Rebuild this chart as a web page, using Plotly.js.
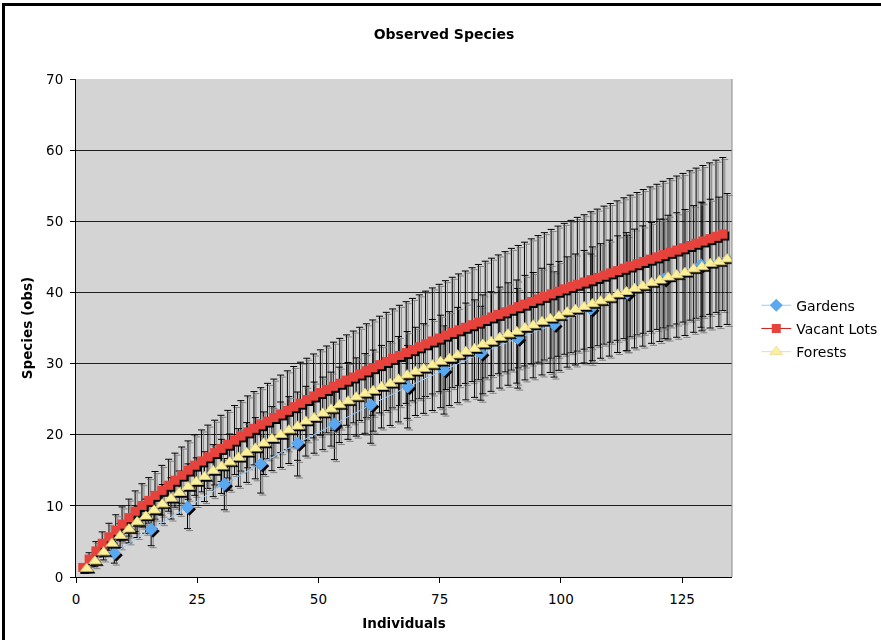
<!DOCTYPE html>
<html>
<head>
<meta charset="utf-8">
<script src="https://cdn.plot.ly/plotly-3.0.1.min.js"></script>
<style>
  html, body { margin: 0; padding: 0; background: #fff; overflow: hidden; }
  #chart { position: absolute; left: 0; top: 0; width: 881px; height: 640px; }
  #frame { position: absolute; left: 2px; top: 3px; width: 900px; height: 700px;
           border-left: 3px solid #000; border-top: 3px solid #000; pointer-events: none; }
  #chart .scatterlayer .trace .points { filter: url(#markShadow); }
  #chart .scatterlayer .errorbars { filter: url(#barShadow); }
</style>
</head>
<body>
<svg width="0" height="0" style="position:absolute">
  <defs>
    <filter id="markShadow" x="-5%" y="-5%" width="110%" height="110%">
      <feDropShadow dx="2" dy="2" stdDeviation="0" flood-color="#000" flood-opacity="1"/>
    </filter>
    <filter id="barShadow" x="-5%" y="-5%" width="110%" height="110%">
      <feDropShadow dx="2" dy="2" stdDeviation="0" flood-color="#7a7a7a" flood-opacity="0.9"/>
    </filter>
  </defs>
</svg>
<div id="chart"></div>
<div id="frame"></div>
<script>
// Species accumulation (rarefaction) curves with +/- 1 SD error bars

const gardensX = [7.9, 15.5, 23.0, 30.6, 38.1, 45.7, 53.3, 60.8, 68.4, 75.9, 83.5, 91.1, 98.6, 106.2, 113.7, 121.3, 128.9, 136.4];
const gardensY = [3.35, 6.7, 9.8, 13.05, 15.9, 18.8, 21.5, 24.2, 26.75, 29.1, 31.45, 33.55, 35.5, 37.7, 39.9, 41.9, 43.9, 45.5];
const gardensSD = [1.4, 2.3, 3.0, 3.6, 4.1, 4.6, 5.0, 5.4, 5.8, 6.2, 6.6, 7.0, 7.4, 7.7, 8.1, 8.4, 8.8, 9.1];

const vacantX = [1.4, 2.7, 4.1, 5.4, 6.8, 8.2, 9.5, 10.9, 12.2, 13.6,
  15.0, 16.3, 17.7, 19.1, 20.4, 21.8, 23.1, 24.5, 25.9, 27.2,
  28.6, 29.9, 31.3, 32.7, 34.0, 35.4, 36.7, 38.1, 39.5, 40.8,
  42.2, 43.6, 44.9, 46.3, 47.6, 49.0, 50.4, 51.7, 53.1, 54.4,
  55.8, 57.2, 58.5, 59.9, 61.2, 62.6, 64.0, 65.3, 66.7, 68.1,
  69.4, 70.8, 72.1, 73.5, 74.9, 76.2, 77.6, 78.9, 80.3, 81.7,
  83.0, 84.4, 85.7, 87.1, 88.5, 89.8, 91.2, 92.5, 93.9, 95.3,
  96.6, 98.0, 99.4, 100.7, 102.1, 103.4, 104.8, 106.2, 107.5, 108.9,
  110.2, 111.6, 113.0, 114.3, 115.7, 117.0, 118.4, 119.8, 121.1, 122.5,
  123.9, 125.2, 126.6, 127.9, 129.3, 130.7, 132.0, 133.4];
const vacantY = [1.35, 2.51, 3.67, 4.74, 5.65, 6.55, 7.45, 8.35, 9.25, 10.06,
  10.77, 11.48, 12.19, 12.90, 13.61, 14.32, 15.03, 15.73, 16.32, 16.90,
  17.49, 18.08, 18.67, 19.25, 19.84, 20.40, 20.91, 21.41, 21.92, 22.42,
  22.93, 23.43, 23.94, 24.44, 24.95, 25.45, 25.93, 26.37, 26.81, 27.24,
  27.68, 28.12, 28.55, 28.99, 29.43, 29.86, 30.30, 30.73, 31.14, 31.55,
  31.96, 32.36, 32.78, 33.18, 33.59, 34.00, 34.38, 34.75, 35.11, 35.47,
  35.83, 36.19, 36.56, 36.92, 37.28, 37.64, 38.00, 38.36, 38.73, 39.09,
  39.45, 39.81, 40.17, 40.51, 40.83, 41.15, 41.47, 41.79, 42.11, 42.43,
  42.75, 43.07, 43.40, 43.72, 44.04, 44.36, 44.68, 45.00, 45.32, 45.64,
  45.96, 46.28, 46.60, 46.92, 47.24, 47.56, 47.89, 48.21];
const vacantSD = [0.5, 0.9, 1.3, 1.6, 1.9, 2.2, 2.4, 2.6, 2.85, 3.05,
  3.2, 3.35, 3.5, 3.65, 3.8, 3.95, 4.1, 4.25, 4.35, 4.45,
  4.55, 4.65, 4.75, 4.85, 4.95, 5.05, 5.15, 5.2, 5.3, 5.4,
  5.45, 5.55, 5.65, 5.75, 5.8, 5.9, 6.0, 6.1, 6.2, 6.3,
  6.35, 6.45, 6.55, 6.6, 6.7, 6.8, 6.9, 6.95, 7.05, 7.15,
  7.2, 7.3, 7.4, 7.45, 7.55, 7.65, 7.75, 7.85, 7.9, 8.0,
  8.1, 8.2, 8.25, 8.35, 8.45, 8.55, 8.6, 8.7, 8.8, 8.9,
  8.95, 9.05, 9.15, 9.2, 9.3, 9.4, 9.45, 9.55, 9.6, 9.7,
  9.75, 9.8, 9.9, 9.95, 10.0, 10.1, 10.15, 10.2, 10.3, 10.35,
  10.4, 10.45, 10.5, 10.55, 10.6, 10.65, 10.7, 10.75];

const forestsX = [2.2, 3.9, 5.7, 7.4, 9.1, 10.9, 12.6, 14.4, 16.1, 17.8,
  19.6, 21.3, 23.1, 24.8, 26.5, 28.3, 30.0, 31.7, 33.5, 35.2,
  37.0, 38.7, 40.4, 42.2, 43.9, 45.7, 47.4, 49.1, 50.9, 52.6,
  54.3, 56.1, 57.8, 59.6, 61.3, 63.0, 64.8, 66.5, 68.3, 70.0,
  71.7, 73.5, 75.2, 77.0, 78.7, 80.4, 82.2, 83.9, 85.6, 87.4,
  89.1, 90.9, 92.6, 94.3, 96.1, 97.8, 99.6, 101.3, 103.0, 104.8,
  106.5, 108.2, 110.0, 111.7, 113.5, 115.2, 116.9, 118.7, 120.4, 122.1,
  123.9, 125.6, 127.4, 129.1, 130.8, 132.6, 134.3];
const forestsY = [1.2, 2.25, 3.5, 4.7, 5.8, 6.75, 7.75, 8.55, 9.4, 10.25,
  11.05, 11.85, 12.7, 13.4, 14.1, 14.95, 15.55, 16.15, 16.8, 17.5,
  18.1, 18.8, 19.45, 20.0, 20.65, 21.2, 21.9, 22.4, 23.0, 23.6,
  24.2, 24.75, 25.3, 25.8, 26.2, 26.75, 27.2, 27.8, 28.4, 28.9,
  29.3, 29.8, 30.3, 30.7, 31.2, 31.7, 32.1, 32.7, 33.1, 33.65,
  34.15, 34.5, 35.05, 35.4, 35.9, 36.35, 36.7, 37.25, 37.6, 38.0,
  38.4, 38.8, 39.2, 39.75, 40.1, 40.55, 40.9, 41.35, 41.7, 42.15,
  42.45, 42.8, 43.3, 43.6, 44.05, 44.3, 44.7];
const forestsSD = [0.4, 0.8, 1.1, 1.4, 1.7, 1.95, 2.2, 2.4, 2.6, 2.75,
  2.9, 3.05, 3.2, 3.35, 3.5, 3.65, 3.8, 3.95, 4.05, 4.2,
  4.3, 4.4, 4.5, 4.6, 4.7, 4.8, 4.9, 5.0, 5.1, 5.2,
  5.3, 5.4, 5.5, 5.6, 5.7, 5.8, 5.9, 6.0, 6.1, 6.2,
  6.3, 6.4, 6.5, 6.6, 6.7, 6.8, 6.85, 6.95, 7.0, 7.1,
  7.2, 7.25, 7.35, 7.4, 7.5, 7.6, 7.65, 7.75, 7.8, 7.9,
  8.0, 8.05, 8.15, 8.2, 8.3, 8.35, 8.45, 8.5, 8.6, 8.7,
  8.75, 8.85, 8.9, 9.0, 9.05, 9.1, 9.2];

const seriesNames = ['Gardens', 'Vacant Lots', 'Forests'];
const xTicks = [0, 25, 50, 75, 100, 125];
const yTicks = [0, 10, 20, 30, 40, 50, 60, 70];

const FONT = 'DejaVu Sans, Verdana, sans-serif';

const series = [
  { name: seriesNames[0], x: gardensX, y: gardensY, sd: gardensSD,
    marker: { symbol: 'diamond', size: 10, color: '#5aa8f0' }, line: { color: '#99ccff', width: 1 } },
  { name: seriesNames[1], x: vacantX, y: vacantY, sd: vacantSD,
    marker: { symbol: 'square', size: 9, color: '#e8423c' }, line: { color: '#c81e1e', width: 1 } },
  { name: seriesNames[2], x: forestsX, y: forestsY, sd: forestsSD,
    marker: { symbol: 'triangle-up', size: 11, color: '#fdf09c', line: { color: '#d8c870', width: 0.5 } },
    line: { color: '#ffd49c', width: 1 } }
];

// error bars first, so every marker sits above every bar
const barTraces = series.map(s => ({
  type: 'scatter', mode: 'markers', x: s.x, y: s.y,
  marker: { size: 1, opacity: 0 },
  error_y: { type: 'data', array: s.sd, visible: true, color: '#000', thickness: 1, width: 3.5 },
  showlegend: false, hoverinfo: 'skip', cliponaxis: false
}));

const markTraces = series.map((s, i) => ({
  type: 'scatter', mode: 'lines+markers', name: s.name, x: s.x, y: s.y,
  marker: s.marker, line: s.line, legendgroup: 'g' + i
}));

const layout = {
  width: 881, height: 640,
  margin: { l: 76, r: 149, t: 79, b: 63, autoexpand: false },
  paper_bgcolor: '#ffffff',
  plot_bgcolor: '#d4d4d4',
  font: { family: FONT, size: 13.5, color: '#000' },
  title: {
    text: 'Observed Species',
    font: { family: FONT, size: 14, weight: 'bold', color: '#000' },
    xref: 'container', yref: 'container', x: 0.504, xanchor: 'center', y: 0.947, yanchor: 'middle'
  },
  xaxis: {
    range: [0, 135.3], tickvals: xTicks, ticktext: xTicks.map(String),
    showgrid: false, zeroline: false, showline: true, linecolor: '#000', linewidth: 1,
    ticks: 'outside', ticklen: 5, tickcolor: '#000', ticklabelstandoff: 5,
    tickfont: { family: FONT, size: 13.5, color: '#000' },
    title: { text: 'Individuals', font: { family: FONT, size: 13.5, weight: 'bold', color: '#000' }, standoff: 12 }
  },
  yaxis: {
    range: [0, 70], tickvals: yTicks, ticktext: yTicks.map(String),
    showgrid: true, gridcolor: '#1e1e1e', gridwidth: 1, zeroline: false,
    showline: true, linecolor: '#000', linewidth: 1,
    ticks: 'outside', ticklen: 5, tickcolor: '#000', ticklabelstandoff: 4,
    tickfont: { family: FONT, size: 13.5, color: '#000' },
    title: { text: 'Species (obs)', font: { family: FONT, size: 13.5, weight: 'bold', color: '#000' }, standoff: 10 }
  },
  legend: {
    x: 1.037, xanchor: 'left', y: 0.577, yanchor: 'top',
    traceorder: 'grouped', tracegroupgap: 2,
    bgcolor: 'rgba(0,0,0,0)', font: { family: FONT, size: 14, color: '#000' }
  },
  shapes: [{
    type: 'line', xref: 'paper', yref: 'paper', x0: 1, x1: 1, y0: 0, y1: 1,
    line: { color: '#8a8a8a', width: 1 }
  }],
  showlegend: true
};

Plotly.newPlot('chart', barTraces.concat(markTraces), layout, { staticPlot: true, displayModeBar: false });
</script>
</body>
</html>
